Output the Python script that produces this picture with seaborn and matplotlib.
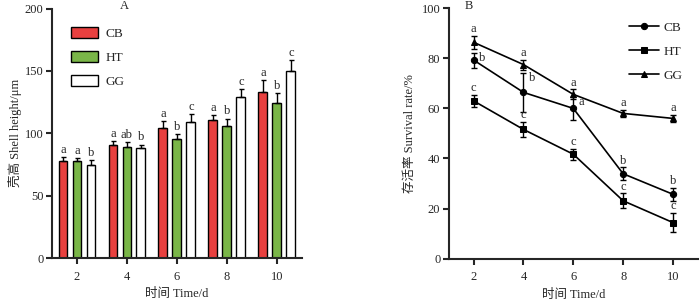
import pandas as pd
import numpy as np
import matplotlib
matplotlib.use("Agg")
import matplotlib.pyplot as plt
import seaborn as sns

days = [2, 4, 6, 8, 10]
groups = ["CB", "HT", "GG"]

# Panel A: shell height (um)
height_cb = [77.6, 90.4, 104.3, 110.4, 132.8]
height_ht = [78.0, 88.8, 95.5, 105.9, 124.0]
height_gg = [74.9, 88.3, 108.8, 129.3, 150.1]
height_cb_err = [3.0, 3.2, 5.3, 4.3, 10.0]
height_ht_err = [2.2, 4.2, 3.7, 5.8, 8.3]
height_gg_err = [3.6, 2.7, 6.4, 6.4, 8.8]
height_letters_cb = ["a", "a", "a", "a", "a"]
height_letters_ht = ["a", "ab", "b", "b", "b"]
height_letters_gg = ["b", "b", "c", "c", "c"]

# Panel B: survival rate (%)
surv_cb = [79.3, 66.4, 60.0, 33.9, 25.7]
surv_ht = [63.0, 51.6, 41.7, 23.1, 14.4]
surv_gg = [86.4, 77.5, 65.6, 58.0, 56.0]
surv_cb_err = [3.0, 7.8, 4.5, 2.5, 2.5]
surv_ht_err = [2.5, 3.0, 2.2, 3.0, 3.8]
surv_gg_err = [2.5, 2.0, 2.0, 1.5, 1.5]
surv_letters_cb = ["b", "b", "a", "b", "b"]
surv_letters_ht = ["c", "c", "c", "c", "c"]
surv_letters_gg = ["a", "a", "a", "a", "a"]

sns.set_style("ticks")
plt.rcParams["font.family"] = ["Liberation Serif", "Noto Sans CJK SC"]
plt.rcParams["axes.unicode_minus"] = False

fs = 9
fig = plt.figure(figsize=(7, 3.05), dpi=100)
ax1 = fig.add_axes([0.0743, 0.154, 0.357, 0.818])
ax2 = fig.add_axes([0.641, 0.152, 0.356, 0.821])

# ---- A: bars ----
height_df = pd.DataFrame({
    "day": [str(d) for d in days] * 3,
    "group": np.repeat(groups, len(days)),
    "height": height_cb + height_ht + height_gg,
})
bar_colors = {"CB": "#e8403f", "HT": "#7ab648", "GG": "#ffffff"}
sns.barplot(data=height_df, x="day", y="height", hue="group", hue_order=groups,
            order=[str(d) for d in days], palette=bar_colors, width=0.84, gap=0.36,
            edgecolor="black", linewidth=1.0, errorbar=None, saturation=1, ax=ax1)

# upper-only error bars + significance letters
errs = [height_cb_err, height_ht_err, height_gg_err]
lets = [height_letters_cb, height_letters_ht, height_letters_gg]
for cont, err, let in zip(ax1.containers, errs, lets):
    for bar, e, l in zip(cont, err, let):
        xc = bar.get_x() + bar.get_width() / 2
        h = bar.get_height()
        ax1.errorbar(xc, h, yerr=[[0], [e]], fmt="none", ecolor="black",
                     elinewidth=1.0, capsize=1.8, capthick=1.0, zorder=1)
        ax1.text(xc, h + e + 1.0, l, ha="center", va="bottom", fontsize=fs)

ax1.set_xlim(-0.5, 4.5)
ax1.set_ylim(0, 200)
ax1.set_yticks([0, 50, 100, 150, 200])
ax1.set_xlabel("时间 Time/d", fontsize=fs)
ax1.set_ylabel("壳高 Shell height/μm", fontsize=fs, labelpad=2)
ax1.text(0.29, 1.01, "A", transform=ax1.transAxes, ha="center", va="center", fontsize=fs)
leg = ax1.legend(loc="upper left", bbox_to_anchor=(0.03, 0.975), frameon=False,
                 fontsize=9.5, handlelength=2.0, handleheight=0.9, labelspacing=0.85,
                 handletextpad=0.6)
for p in leg.get_patches():
    p.set_edgecolor("black")
    p.set_linewidth(1.0)

# ---- B: lines ----
surv_df = pd.DataFrame({
    "day": days * 3,
    "group": np.repeat(groups, len(days)),
    "surv": surv_cb + surv_ht + surv_gg,
})
sns.lineplot(data=surv_df, x="day", y="surv", hue="group", style="group",
             hue_order=groups, style_order=groups,
             palette={"CB": "black", "HT": "black", "GG": "black"},
             markers={"CB": "o", "HT": "s", "GG": "^"}, dashes=False,
             markersize=4.5, markeredgecolor="black", linewidth=1.2, ax=ax2)

for vals, err in zip([surv_cb, surv_ht, surv_gg], [surv_cb_err, surv_ht_err, surv_gg_err]):
    ax2.errorbar(days, vals, yerr=err, fmt="none", ecolor="black",
                 elinewidth=1.0, capsize=2, capthick=1.0)

for d, v, e, l in zip(days, surv_gg, surv_gg_err, surv_letters_gg):
    ax2.text(d, v + e + 0.3, l, ha="center", va="bottom", fontsize=fs)
for d, v, e, l in zip(days, surv_ht, surv_ht_err, surv_letters_ht):
    ax2.text(d, v + e + 0.3, l, ha="center", va="bottom", fontsize=fs)
for i, (d, v, e, l) in enumerate(zip(days, surv_cb, surv_cb_err, surv_letters_cb)):
    if i < 3:
        # first three CB letters sit to the right of the error bar
        ax2.text(d + 0.22, v + e - 2.0, l, ha="left", va="center", fontsize=fs)
    else:
        ax2.text(d, v + e + 0.3, l, ha="center", va="bottom", fontsize=fs)

ax2.set_xlim(1, 11)
ax2.set_ylim(0, 100)
ax2.set_xticks(days)
ax2.set_yticks([0, 20, 40, 60, 80, 100])
ax2.set_xlabel("时间 Time/d", fontsize=fs)
ax2.set_ylabel("存活率 Survival rate/%", fontsize=fs, labelpad=4)
ax2.text(0.08, 1.01, "B", transform=ax2.transAxes, ha="center", va="center", fontsize=fs)
ax2.legend(loc="upper right", bbox_to_anchor=(0.985, 0.995), frameon=False, fontsize=9.5,
           handlelength=2.3, labelspacing=0.9, handletextpad=0.3)

for ax in (ax1, ax2):
    sns.despine(ax=ax)
    for s in ("left", "bottom"):
        ax.spines[s].set_linewidth(1.5)
    ax.tick_params(width=1.5, length=4, labelsize=fs, pad=2)
    ax.tick_params(axis="x", pad=5)

fig.savefig("out.png", dpi=100)
